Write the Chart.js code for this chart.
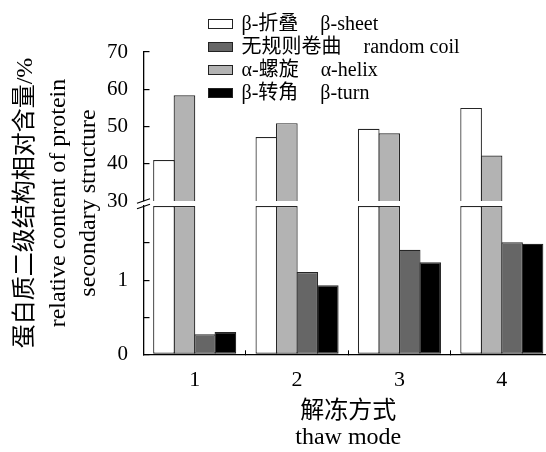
<!DOCTYPE html>
<html>
<head>
<meta charset="utf-8">
<script src="https://cdn.jsdelivr.net/npm/chart.js@4.4.1/dist/chart.umd.min.js"></script>
<style>
html, body { margin: 0; padding: 0; width: 546px; height: 452px; overflow: hidden; background: #fff; }
body { position: relative; font-family: 'Liberation Serif', 'Noto Sans CJK SC', serif; color: #000; }
canvas { position: absolute; left: 0; }
#upper { top: 0; }
#lower { top: 166px; }
.ytitle { position: absolute; white-space: nowrap; font-size: 24px; line-height: 1; transform: translate(-50%, -50%) rotate(-90deg); }
.lg-row { position: absolute; left: 0; height: 22px; font-size: 20px; line-height: 22px; white-space: nowrap; }
.lg-box { position: absolute; left: 208px; top: 7px; width: 23px; height: 8px; border: 1px solid #222; }
.lg-zh, .lg-en { position: absolute; top: 0; }
</style>
</head>
<body>
<canvas id="upper" width="560" height="240"></canvas>
<canvas id="lower" width="560" height="286"></canvas>
<div id="legend"></div>

<script>
// thaw modes
const categories = ['1', '2', '3', '4'];

// relative content of protein secondary structure, %
const sheet = [41.0, 47.2, 49.4, 55.0];
const helix = [58.4, 50.9, 48.2, 42.2];
const coil = [0.27, 1.11, 1.41, 1.51];
const turn = [0.30, 0.93, 1.24, 1.49];

// broken y axis: upper and lower ranges, labelled ticks
const upperRange = [30, 70];
const lowerRange = [0, 2];
const upperLabels = [30, 40, 50, 60, 70];
const lowerLabels = [0, 1];

const font = "'Liberation Serif', 'Noto Sans CJK SC', serif";
const edge = '#262626';

// bar order inside a group: sheet, helix, coil, turn
const series = [
    { zh: 'β-折叠', en: 'β-sheet', values: sheet, color: '#ffffff' },
    { zh: 'α-螺旋', en: 'α-helix', values: helix, color: '#b3b3b3' },
    { zh: '无规则卷曲', en: 'random coil', values: coil, color: '#666666' },
    { zh: 'β-转角', en: 'β-turn', values: turn, color: '#000000' }
];
const legendOrder = [0, 2, 1, 3];

function makeDatasets(part) {
    return series.map(s => ({
        label: s.en,
        data: s.values.map(v => part === 'upper'
            ? (v > upperRange[0] ? v : null)
            : Math.min(v, lowerRange[1])),
        backgroundColor: s.color,
        borderColor: edge,
        borderWidth: 1.2,
        borderSkipped: false,
        inflateAmount: 0,
        // slight overlap so neighbouring bars share one outline
        barPercentage: 1.058,
        categoryPercentage: 0.8
    }));
}

function yScale(range, step, labels) {
    return {
        min: range[0],
        max: range[1],
        afterFit: s => { s.width = 143.5; },
        border: { color: '#000', width: 1.3 },
        grid: {
            drawOnChartArea: false,
            tickLength: -6,
            lineWidth: 1.2,
            color: '#000',
            // no tick mark where the axis is broken
            tickColor: ctx => (ctx.tick && ctx.tick.value === range[0] && range[0] > 0) ||
                              (ctx.tick && ctx.tick.value === range[1] && range[1] < upperRange[0]) ? 'rgba(0,0,0,0)' : '#000'
        },
        ticks: {
            stepSize: step,
            padding: 21.5,
            color: '#000',
            font: { family: font, size: 21 },
            callback: v => labels.includes(v) ? String(v) : ''
        }
    };
}

// two slashes across the y axis at the break
const breakMarks = {
    id: 'breakMarks',
    afterDraw(chart) {
        const { ctx, chartArea } = chart;
        const x = chartArea.left;
        ctx.save();
        ctx.strokeStyle = '#000';
        ctx.lineWidth = 1.2;
        [chartArea.top - 5, chartArea.top + 0.5].forEach(y => {
            ctx.beginPath();
            ctx.moveTo(x - 6.5, y + 2.2);
            ctx.lineTo(x + 6.5, y - 2.2);
            ctx.stroke();
        });
        ctx.restore();
    }
};

Chart.defaults.font.family = font;
Chart.defaults.color = '#000';

new Chart(document.getElementById('upper'), {
    type: 'bar',
    data: { labels: categories, datasets: makeDatasets('upper') },
    options: {
        responsive: false,
        animation: false,
        devicePixelRatio: 1,
        layout: { padding: { top: 52, bottom: 39, left: 0, right: 7 } },
        plugins: { legend: { display: false }, tooltip: { enabled: false } },
        scales: {
            x: { display: false },
            y: yScale(upperRange, 5, upperLabels)
        }
    }
});

new Chart(document.getElementById('lower'), {
    type: 'bar',
    data: { labels: categories, datasets: makeDatasets('lower') },
    options: {
        responsive: false,
        animation: false,
        devicePixelRatio: 1,
        layout: { padding: { top: 40, bottom: 0, left: 0, right: 7 } },
        plugins: { legend: { display: false }, tooltip: { enabled: false } },
        scales: {
            x: {
                afterFit: s => { s.height = 97.7; },
                border: { color: '#000', width: 1.3 },
                grid: { drawOnChartArea: false, tickLength: -4, lineWidth: 1, color: '#000' },
                ticks: { padding: 16.5, color: '#000', font: { family: font, size: 22 } },
                title: {
                    display: true,
                    text: ['解冻方式', 'thaw mode'],
                    color: '#000',
                    font: { family: font, size: 24, lineHeight: 1.08 },
                    padding: { top: 0, bottom: 1 }
                }
            },
            y: yScale(lowerRange, 0.5, lowerLabels)
        }
    },
    plugins: [breakMarks]
});

// y axis title, rotated
[['蛋白质二级结构相对含量/%', 24], ['relative content of protein', 57], ['secondary structure', 87]].forEach(([t, cx]) => {
    const d = document.createElement('div');
    d.className = 'ytitle';
    d.textContent = t;
    d.style.left = cx + 'px';
    d.style.top = '203px';
    document.body.appendChild(d);
});

// legend
const legend = document.getElementById('legend');
legendOrder.forEach((idx, row) => {
    const s = series[idx];
    const r = document.createElement('div');
    r.className = 'lg-row';
    r.style.top = (12 + row * 23) + 'px';
    const box = document.createElement('span');
    box.className = 'lg-box';
    box.style.background = s.color;
    const zh = document.createElement('span');
    zh.className = 'lg-zh';
    zh.style.left = '241.5px';
    zh.textContent = s.zh;
    const en = document.createElement('span');
    en.className = 'lg-en';
    en.textContent = s.en;
    r.appendChild(box); r.appendChild(zh); r.appendChild(en);
    legend.appendChild(r);
    const zhRight = 241.5 + zh.getBoundingClientRect().width;
    en.style.left = Math.max(318, zhRight + 22) + 'px';
});
</script>
</body>
</html>
